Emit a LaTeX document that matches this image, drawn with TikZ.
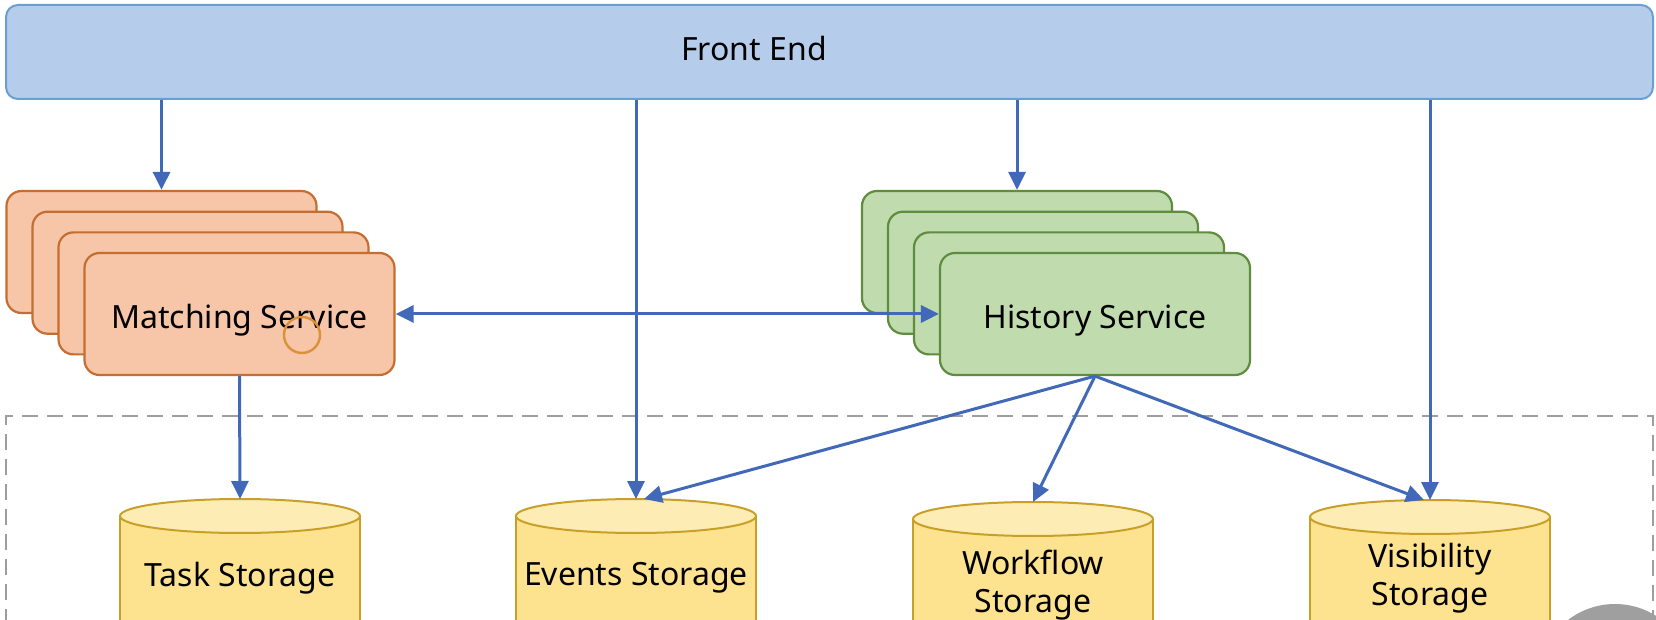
\documentclass[tikz,border=0pt]{standalone}
\usepackage{fontspec}
\setmainfont{Noto Sans}
\usetikzlibrary{arrows.meta}

\definecolor{feFill}{HTML}{B5CDEB}
\definecolor{feLine}{HTML}{6A9FD6}
\definecolor{msFill}{HTML}{F7C5A7}
\definecolor{msLine}{HTML}{C46E32}
\definecolor{hsFill}{HTML}{C0DCAE}
\definecolor{hsLine}{HTML}{608C40}
\definecolor{dbBody}{HTML}{FDE28F}
\definecolor{dbTop}{HTML}{FEECB5}
\definecolor{dbLine}{HTML}{C8A028}
\definecolor{flowBlue}{HTML}{4169B8}
\definecolor{boxGrey}{HTML}{9E9E9E}
\definecolor{ringOrange}{HTML}{D9913A}

\tikzset{
  flow/.style={draw=flowBlue, line width=1.5pt, -{Triangle[length=9pt,width=8.5pt]}},
  svc/.style={rounded corners=7.5pt, line width=1.1pt, minimum width=155pt, minimum height=61pt,
    inner sep=0pt, text height=15pt, text depth=0pt, font=\fontsize{16}{19}\selectfont},
  msbox/.style={svc, draw=msLine, fill=msFill},
  hsbox/.style={svc, draw=hsLine, fill=hsFill},
  dblbl/.style={font=\fontsize{16}{19}\selectfont, align=center},
}

\begin{document}
\begin{tikzpicture}[x=0.5pt, y=-0.5pt]
    \useasboundingbox (0,0) rectangle (1656,620);
    \fill[white] (0,0) rectangle (1656,620);

    % storage area
    \draw[boxGrey, line width=1.2pt, dash pattern=on 8pt off 4.5pt] (6,700) -- (6,416) -- (1653,416) -- (1653,700);

    \foreach \nm/\cx/\ty in {task/240/499, events/636/499, workflow/1033/502, visibility/1430/500} {
        \fill[dbBody] (\cx-120,\ty+17) rectangle (\cx+120,700);
        \draw[dbLine, line width=1pt] (\cx-120,\ty+17) -- (\cx-120,700) (\cx+120,\ty+17) -- (\cx+120,700);
        \draw[dbLine, line width=1pt, fill=dbTop] (\cx,\ty+17) ellipse [x radius=60pt, y radius=8.5pt];
        \coordinate (\nm) at (\cx,\ty);
    }
    \node[dblbl] (tasklbl) at (240,578) {Task Storage};
    \node[dblbl] (eventslbl) at (636,578) {Events Storage};
    \node[dblbl] (workflowlbl) at (1033,585) {Workflow\\Storage};
    \node[dblbl] (visibilitylbl) at (1430,578) {Visibility\\Storage};

    \node[draw=feLine, fill=feFill, rounded corners=6pt, line width=1pt, minimum width=823.5pt, minimum height=47pt,
        label={[xshift=-37.75pt, yshift=1.75pt, font=\fontsize{16}{19}\selectfont]center:Front End}] (fe) at (829.5,52) {};

    \foreach \i in {0,1,2} {
        \node[msbox] (ms\i) at (161.5+26*\i, 252+20.7*\i) {};
        \node[hsbox] (hs\i) at (1017+26*\i, 252+20.7*\i) {};
    }
    \node[msbox] (ms3) at (239.5,314) {Matching Service};
    \node[hsbox] (hs3) at (1095,314) {History Service};

    \draw[flow] (fe.south -| ms0.north) -- (ms0.north);
    \draw[flow] (fe.south -| hs0.north) -- (hs0.north);
    \draw[flow] (fe.south -| events) -- (events);
    \draw[flow] (fe.south -| visibility) -- (visibility);
    \draw[flow, {Triangle[length=9pt,width=8.5pt]}-{Triangle[length=9pt,width=8.5pt]}] (ms3.east) -- (hs3.west);
    \draw[flow] (ms3.south) -- (task);
    \draw[flow] (hs3.south) -- ([xshift=4pt]events);
    \draw[flow] (hs3.south) -- (workflow);
    \draw[flow] (hs3.south) -- ([xshift=-3pt]visibility);

    \draw[ringOrange, line width=1.2pt] (302,335) circle [radius=9pt];
    \fill[gray!75] (1615,681) circle [radius=38.5pt];
\end{tikzpicture}
\end{document}
